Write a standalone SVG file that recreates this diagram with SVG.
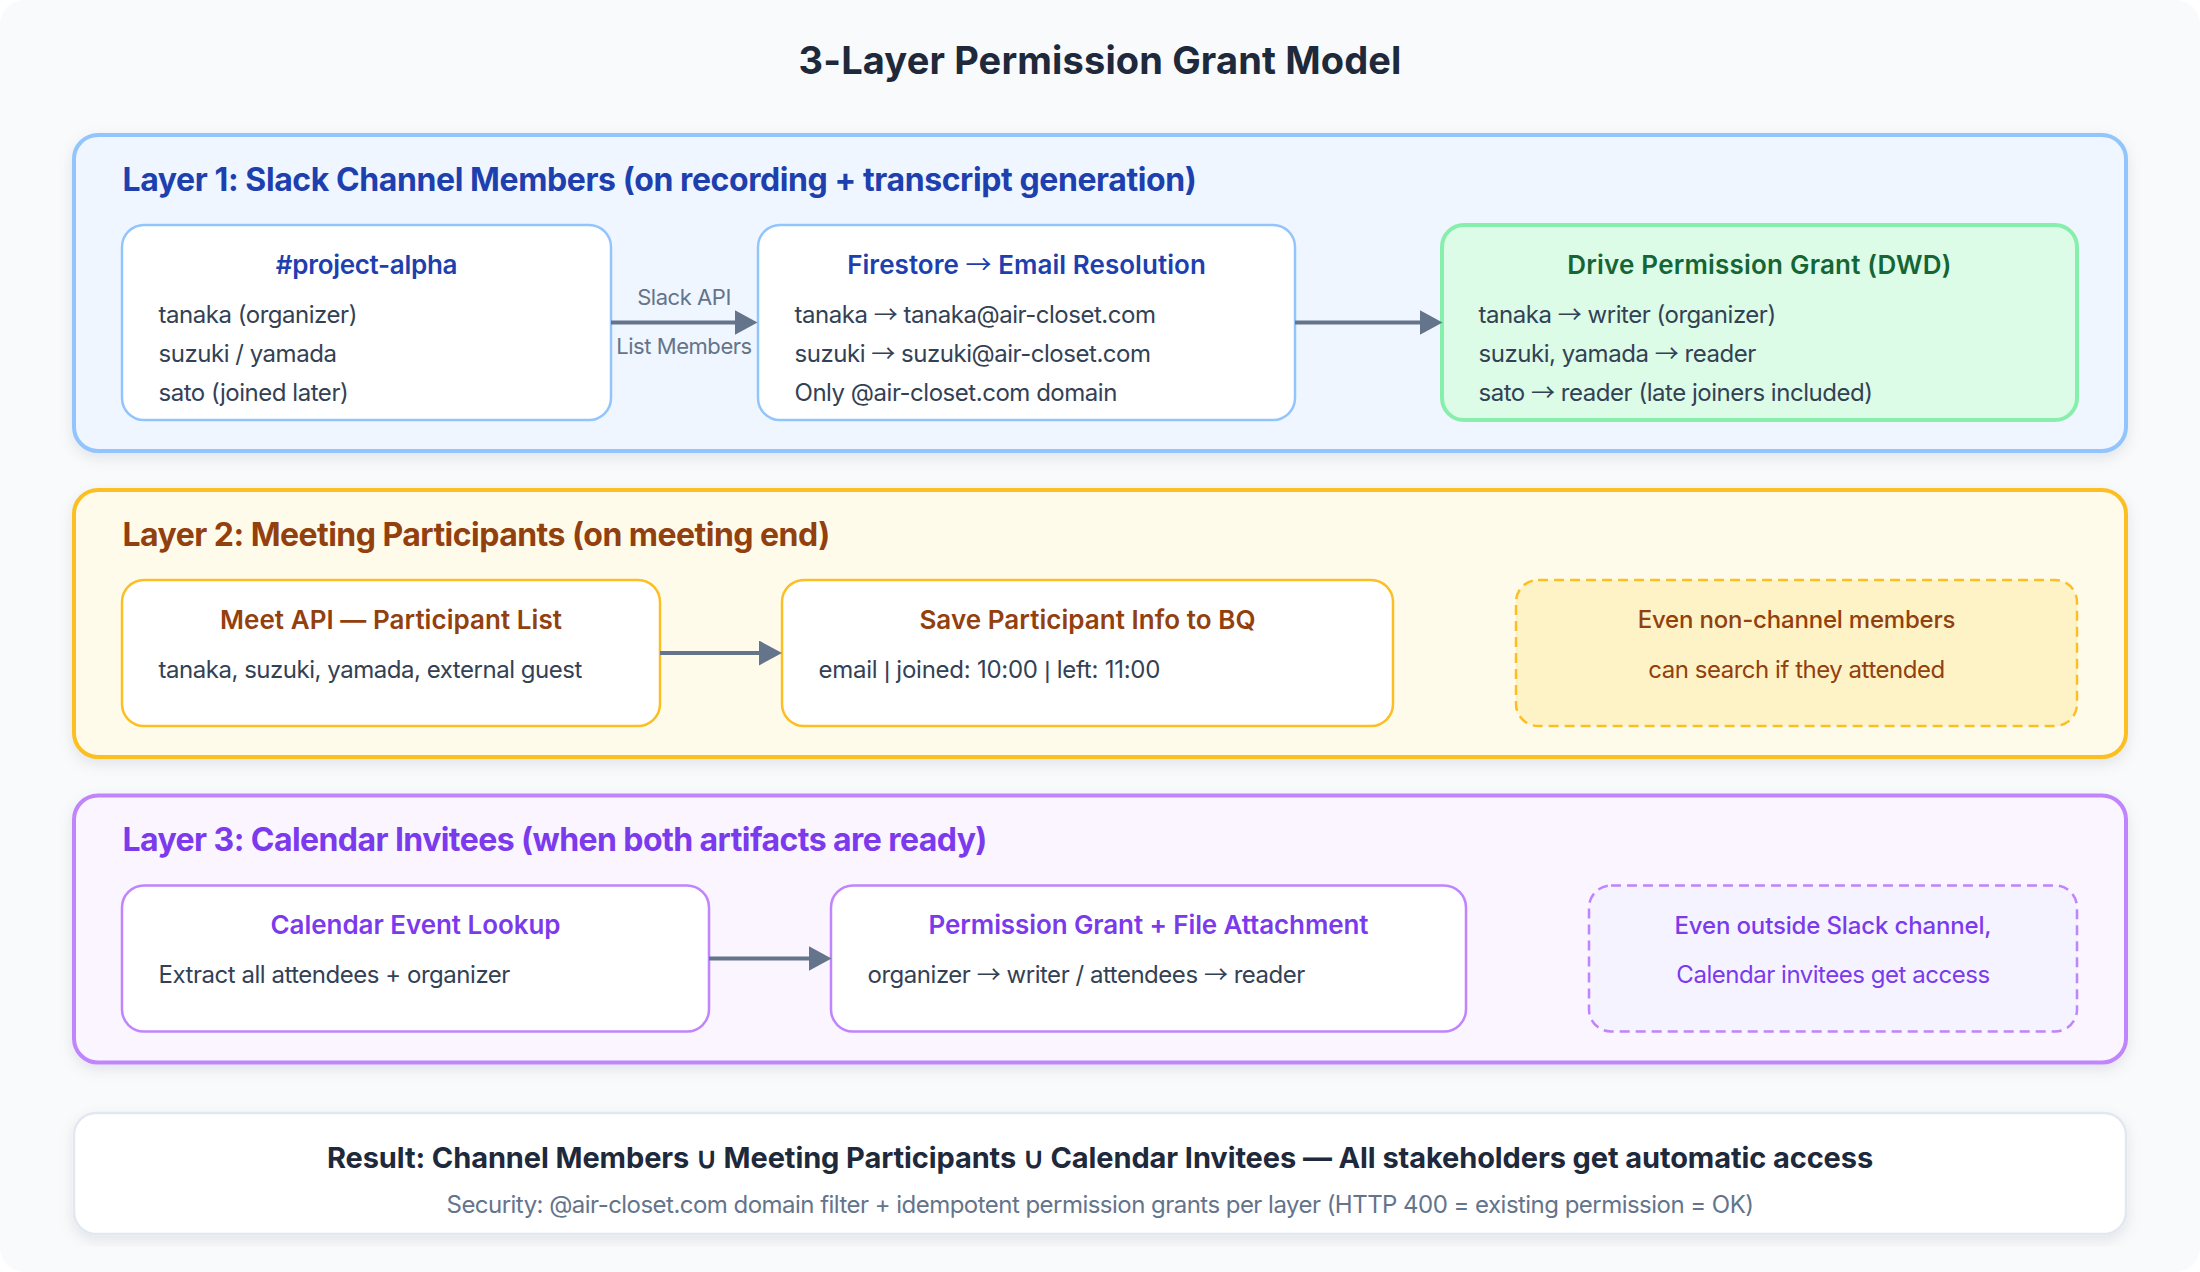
<svg xmlns="http://www.w3.org/2000/svg" width="2200" height="1272" viewBox="0 0 2200 1272">
<defs>
<filter id="sh"><feDropShadow dx="0" dy="5" stdDeviation="7" flood-color="#0f172a" flood-opacity="0.09"/></filter>
<marker id="arr" viewBox="0 0 23 25" markerUnits="userSpaceOnUse" markerWidth="23" markerHeight="25" refX="1" refY="12.5" orient="auto"><path d="M0 0L23 12.500L0 25Z" fill="#64748b"/></marker>
</defs>
<style>
text{font-family:Inter,"Liberation Sans",sans-serif}
tspan.a{font-family:"Noto Sans CJK JP",sans-serif;font-weight:400}
tspan.p{font-family:"Liberation Sans",sans-serif}
.t{font-size:38px;font-weight:700;text-anchor:middle;fill:#1e293b;letter-spacing:.14px}
.lt{font-size:32px;font-weight:700;letter-spacing:-.5px}
.h{font-size:26px;font-weight:600;text-anchor:middle;letter-spacing:.05px}
.b{font-size:24px;fill:#334155;letter-spacing:-.47px}
.c{font-size:24px;text-anchor:middle;letter-spacing:-.47px}
.c5{font-weight:500;letter-spacing:-.2px}
.lab{font-size:22px;fill:#64748b;text-anchor:middle;letter-spacing:-.45px}
.r1{font-size:29px;font-weight:700;fill:#1e293b;text-anchor:middle;letter-spacing:-.1px}
.r2{font-size:24px;fill:#64748b;text-anchor:middle;letter-spacing:-.53px}
.blue{fill:#1e40af}.brown{fill:#92400e}.purple{fill:#7c3aed}.green{fill:#166534}
.layer{stroke-width:4}
.box{stroke-width:2.500;fill:#fff}
</style>
<rect width="2200" height="1272" fill="#fff"/>
<rect id="bg" width="2200" height="1272" rx="24" fill="#f8fafc"/>
<text class="t" x="1100" y="73.500">3-Layer Permission Grant Model</text>

<g id="layer1"><rect class="layer" x="74" y="135" width="2052" height="316" rx="24" fill="#eff6ff" stroke="#93c5fd" filter="url(#sh)"/>
<text class="lt blue" x="122.500" y="191" style="letter-spacing:-.41px">Layer 1: Slack Channel Members (on recording + transcript generation)</text></g>
<g id="project-alpha"><rect class="box" x="122" y="225" width="489" height="195" rx="22" stroke="#93c5fd"/>
<text class="h blue" x="366.500" y="273.500" style="letter-spacing:-.3px">#project-alpha</text>
<text class="b" x="158.500" y="323">tanaka (organizer)</text><text class="b" x="158.500" y="362">suzuki / yamada</text><text class="b" x="158.500" y="401">sato (joined later)</text></g>
<g id="firestore"><rect class="box" x="758" y="225" width="537" height="195" rx="22" stroke="#93c5fd"/>
<text class="h blue" x="1026.500" y="273.500">Firestore <tspan class="a">→</tspan> Email Resolution</text>
<text class="b" x="794.500" y="323">tanaka <tspan class="a">→</tspan> tanaka@air-closet.com</text><text class="b" x="794.500" y="362">suzuki <tspan class="a">→</tspan> suzuki@air-closet.com</text><text class="b" x="794.500" y="401">Only @air-closet.com domain</text></g>
<g id="drive"><rect x="1442" y="225" width="635" height="195" rx="22" fill="#dcfce7" stroke="#86efac" stroke-width="4"/>
<text class="h green" x="1759.500" y="273.500" style="letter-spacing:.2px">Drive Permission Grant (DWD)</text>
<text class="b" x="1478.500" y="323">tanaka <tspan class="a">→</tspan> writer (organizer)</text><text class="b" x="1478.500" y="362">suzuki, yamada <tspan class="a">→</tspan> reader</text><text class="b" x="1478.500" y="401">sato <tspan class="a">→</tspan> reader (late joiners included)</text></g>

<g id="layer2"><rect class="layer" x="74" y="490" width="2052" height="267" rx="24" fill="#fffbeb" stroke="#fbbf24" filter="url(#sh)"/>
<text class="lt brown" x="122.500" y="545.500" style="letter-spacing:-.53px">Layer 2: Meeting Participants (on meeting end)</text></g>
<g id="meet"><rect class="box" x="122" y="580" width="538" height="146" rx="22" stroke="#fbbf24"/>
<text class="h brown" x="391" y="628.500">Meet API — Participant List</text>
<text class="b" x="158.500" y="678">tanaka, suzuki, yamada, external guest</text></g>
<g id="save"><rect class="box" x="782" y="580" width="611" height="146" rx="22" stroke="#fbbf24"/>
<text class="h brown" x="1087.500" y="628.500">Save Participant Info to BQ</text>
<text class="b" x="818.500" y="678" style="letter-spacing:-.25px">email <tspan class="p">|</tspan> joined: 10:00 <tspan class="p">|</tspan> left: 11:00</text></g>
<g id="note2"><rect x="1516" y="580" width="561" height="146" rx="22" fill="#fef3c7" stroke="#fbbf24" stroke-width="2.500" stroke-dasharray="10 6"/>
<text class="c c5 brown" x="1796.500" y="628">Even non-channel members</text>
<text class="c brown" x="1796.500" y="678">can search if they attended</text></g>

<g id="layer3"><rect class="layer" x="74" y="795.500" width="2052" height="267" rx="24" fill="#faf5ff" stroke="#c084fc" filter="url(#sh)"/>
<text class="lt purple" x="122.500" y="851" style="letter-spacing:-.57px">Layer 3: Calendar Invitees (when both artifacts are ready)</text></g>
<g id="calendar"><rect class="box" x="122" y="885.500" width="587" height="146" rx="22" stroke="#c084fc"/>
<text class="h purple" x="415.500" y="934" style="letter-spacing:-.05px">Calendar Event Lookup</text>
<text class="b" x="158.500" y="983">Extract all attendees + organizer</text></g>
<g id="grant"><rect class="box" x="831" y="885.500" width="635" height="146" rx="22" stroke="#c084fc"/>
<text class="h purple" x="1148.500" y="934" style="letter-spacing:-.1px">Permission Grant + File Attachment</text>
<text class="b" x="867.500" y="983">organizer <tspan class="a">→</tspan> writer / attendees <tspan class="a">→</tspan> reader</text></g>
<g id="note3"><rect x="1589" y="885.500" width="488" height="146" rx="22" fill="#f5f3ff" stroke="#c084fc" stroke-width="2.500" stroke-dasharray="10 6"/>
<text class="c c5 purple" x="1833" y="934" style="letter-spacing:-.15px">Even outside Slack channel,</text>
<text class="c purple" x="1833" y="983">Calendar invitees get access</text></g>

<g id="connectors" fill="none" stroke="#64748b" stroke-width="4">
<path d="M611 322.500H735.500" marker-end="url(#arr)"/>
<path d="M1295 322.500H1420.500" marker-end="url(#arr)"/>
<path d="M660 653H760" marker-end="url(#arr)"/>
<path d="M709 958.500H809.500" marker-end="url(#arr)"/>
</g>
<text class="lab" x="684" y="305">Slack API</text>
<text class="lab" x="684" y="354">List Members</text>

<g id="result"><rect x="74" y="1113" width="2052" height="121" rx="22" fill="#fff" stroke="#e2e8f0" stroke-width="2.500" filter="url(#sh)"/>
<text class="r1" x="1100" y="1168">Result: Channel Members ∪ Meeting Participants ∪ Calendar Invitees — All stakeholders get automatic access</text>
<text class="r2" x="1100" y="1213">Security: @air-closet.com domain filter + idempotent permission grants per layer (HTTP 400 = existing permission = OK)</text></g>
</svg>
